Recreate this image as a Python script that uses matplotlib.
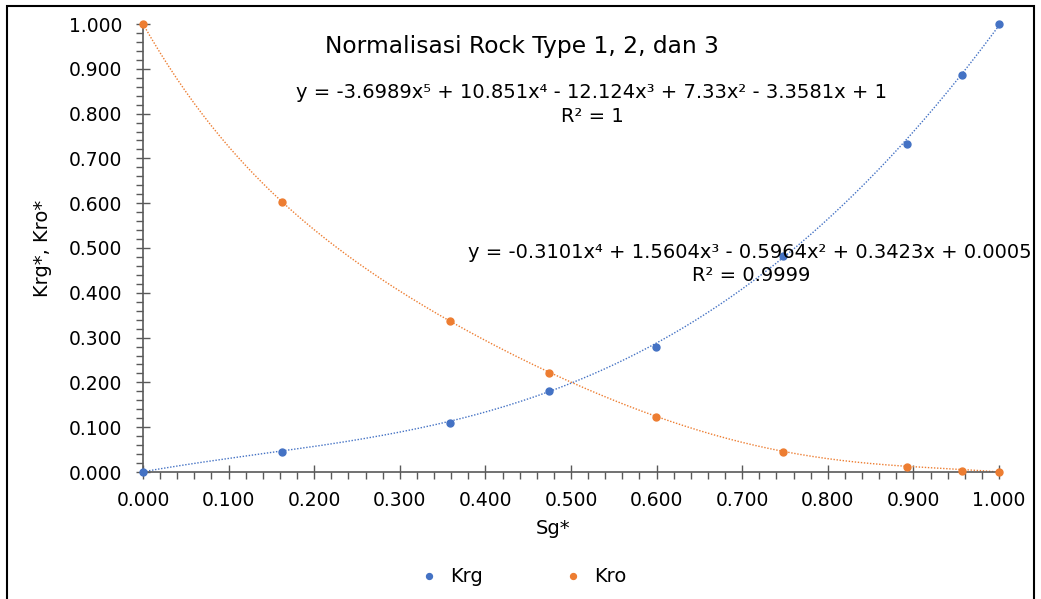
import numpy as np
import matplotlib; matplotlib.use("Agg")
import matplotlib.pyplot as plt
from matplotlib.patches import Rectangle
from matplotlib.ticker import MultipleLocator, FormatStrFormatter
plt.rcParams.update({"font.family": "DejaVu Sans"})

# data
sg = [0.000, 0.162, 0.359, 0.474, 0.599, 0.748, 0.892, 0.957, 1.000]
krg = [0.000, 0.045, 0.109, 0.180, 0.280, 0.482, 0.733, 0.886, 1.000]
kro = [1.000, 0.603, 0.336, 0.221, 0.122, 0.045, 0.012, 0.003, 0.000]
# trendline coefficients as printed (highest power first)
krg_coef = [-0.3101, 1.5604, -0.5964, 0.3423, 0.0005]
kro_coef = [-3.6989, 10.851, -12.124, 7.33, -3.3581, 1]
eq_kro = ["y = -3.6989x⁵ + 10.851x⁴ - 12.124x³ + 7.33x² - 3.3581x + 1", "R² = 1"]
eq_krg = ["y = -0.3101x⁴ + 1.5604x³ - 0.5964x² + 0.3423x + 0.0005", "R² = 0.9999"]

BLUE = "#4472C4"; ORANGE = "#ED7D31"; AX = "#595959"
W, H = 1041, 599
fig = plt.figure(figsize=(W/100, H/100), dpi=100)
ax = fig.add_axes([143/W, 1-472/H, 856/W, 448/H])

xx = np.linspace(0, 1, 300)
ax.plot(xx, np.polyval(krg_coef, xx), color=BLUE, lw=1.0, ls=(0, (1, 1.2)))
ax.plot(xx, np.polyval(kro_coef, xx), color=ORANGE, lw=1.0, ls=(0, (1, 1.2)))
ax.plot(sg, krg, "o", color=BLUE, ms=5, label="Krg", clip_on=False, zorder=4)
ax.plot(sg, kro, "o", color=ORANGE, ms=5, label="Kro", clip_on=False, zorder=4)

ax.set_xlim(0, 1); ax.set_ylim(0, 1)
for a in (ax.xaxis, ax.yaxis):
    a.set_major_locator(MultipleLocator(0.1))
    a.set_minor_locator(MultipleLocator(0.02))
    a.set_major_formatter(FormatStrFormatter("%.3f"))
ax.tick_params(which="major", direction="inout", length=10, width=1, color=AX, labelsize=13.5)
ax.tick_params(axis="y", which="major", pad=10)
ax.tick_params(axis="x", which="major", pad=9)
ax.tick_params(which="minor", direction="out", length=5, width=1, color=AX)
for s in ["top", "right"]: ax.spines[s].set_visible(False)
for s in ["left", "bottom"]: ax.spines[s].set_color(AX); ax.spines[s].set_linewidth(1.2)

def ftxt(x, y, s, **kw):
    fig.text(x/W, 1-y/H, s, ha="center", va="center", **kw)
ftxt(522, 46, "Normalisasi Rock Type 1, 2, dan 3", fontsize=16.8)
ftxt(592, 93, eq_kro[0], fontsize=14)
ftxt(592, 117, eq_kro[1], fontsize=14)
ftxt(750, 253, eq_krg[0], fontsize=14)
ftxt(751, 276, eq_krg[1], fontsize=14)
ftxt(553, 528, "Sg*", fontsize=14)
fig.text(42/W, 1-248/H, "Krg*, Kro*", rotation=90, ha="center", va="center", fontsize=14)

fig.legend(loc="center", bbox_to_anchor=(518/W, 1-577/H), ncol=2, frameon=False,
           fontsize=14, handletextpad=0.1, columnspacing=3.6, markerscale=0.85)
fig.add_artist(Rectangle((7/W, -0.02), 1027/W, 1.02-6/H, transform=fig.transFigure,
                         fill=False, ec="black", lw=1.5))
fig.savefig("out.png", dpi=100)
